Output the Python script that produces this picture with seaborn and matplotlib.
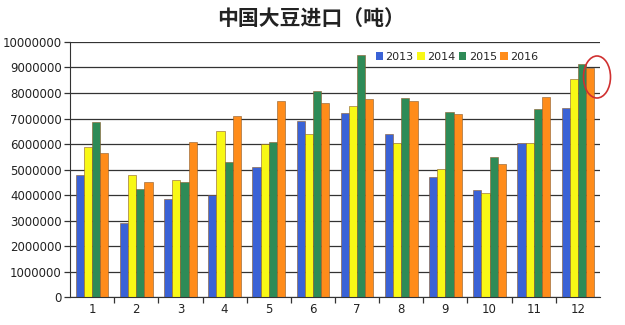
import matplotlib
matplotlib.use("Agg")
import matplotlib.pyplot as plt
import seaborn as sns
import pandas as pd
import numpy as np
from matplotlib.patches import Ellipse, Patch
from matplotlib.ticker import FixedLocator

months = ["1", "2", "3", "4", "5", "6", "7", "8", "9", "10", "11", "12"]
years = ["2013", "2014", "2015", "2016"]
v2013 = [4800000, 2900000, 3850000, 4000000, 5100000, 6900000, 7200000, 6380000, 4700000, 4200000, 6050000, 7430000]
v2014 = [5900000, 4800000, 4600000, 6500000, 6000000, 6400000, 7500000, 6040000, 5020000, 4090000, 6040000, 8560000]
v2015 = [6850000, 4250000, 4500000, 5300000, 6100000, 8090000, 9500000, 7790000, 7270000, 5510000, 7390000, 9120000]
v2016 = [5650000, 4520000, 6100000, 7100000, 7700000, 7590000, 7750000, 7700000, 7190000, 5230000, 7850000, 8980000]
colors = ["#3A62D6", "#F8F815", "#2E8B57", "#FF8C1A"]

rows = []
for y, vals in zip(years, [v2013, v2014, v2015, v2016]):
    for m, v in zip(months, vals):
        rows.append({"month": m, "year": y, "value": v})
df = pd.DataFrame(rows)

sns.set_style("white")
plt.rcParams["font.family"] = ["DejaVu Sans"]

fig = plt.figure(figsize=(6.25, 3.25), dpi=100)
ax = fig.add_axes([0.112, 0.085, 0.848, 0.786])

sns.barplot(data=df, x="month", y="value", hue="year", order=months, hue_order=years,
            palette=colors, saturation=1, width=0.74, edgecolor="#8a5a2a", linewidth=0.4,
            ax=ax, legend=False, gap=0)

ax.set_ylim(0, 10000000)
ax.set_xlim(-0.5, 11.5)
ax.set_yticks(np.arange(0, 10000001, 1000000))
ax.set_yticklabels([str(int(t)) for t in np.arange(0, 10000001, 1000000)], fontsize=8.5, color="#222222")
ax.yaxis.grid(True, color="#333333", linewidth=0.9)
ax.set_axisbelow(True)
ax.set_xlabel("")
ax.set_ylabel("")
ax.tick_params(axis="x", length=0, labelsize=8.5, labelcolor="#222222", pad=4)
ax.tick_params(axis="y", length=4, width=0.9, color="#333333", left=True, pad=2)
ax.xaxis.set_minor_locator(FixedLocator(np.arange(0.5, 11.5, 1)))
ax.tick_params(axis="x", which="minor", length=4, width=0.9, color="#333333", bottom=True)
for s in ["top", "right"]:
    ax.spines[s].set_visible(False)
ax.spines["left"].set_color("#333333")
ax.spines["bottom"].set_color("#333333")

handles = [Patch(facecolor=c, edgecolor="none") for c in colors]
ax.legend(handles, years, loc="center", bbox_to_anchor=(0.73, 0.94), ncol=4, frameon=False,
          fontsize=8, handlelength=0.7, handleheight=0.7, handletextpad=0.2, columnspacing=0.3,
          borderaxespad=0)

fig.text(0.498, 0.942, "中国大豆进口（吨）", ha="center", va="center", fontsize=15,
         fontweight="bold", family=["Noto Sans CJK SC", "DejaVu Sans"], color="#222222")

fig.patches.append(Ellipse((597 / 625, 1 - 77 / 325), 27 / 625, 42 / 325,
                           transform=fig.transFigure, fill=False, edgecolor="#d03030", linewidth=1.2))

fig.savefig("out.png", dpi=100)
